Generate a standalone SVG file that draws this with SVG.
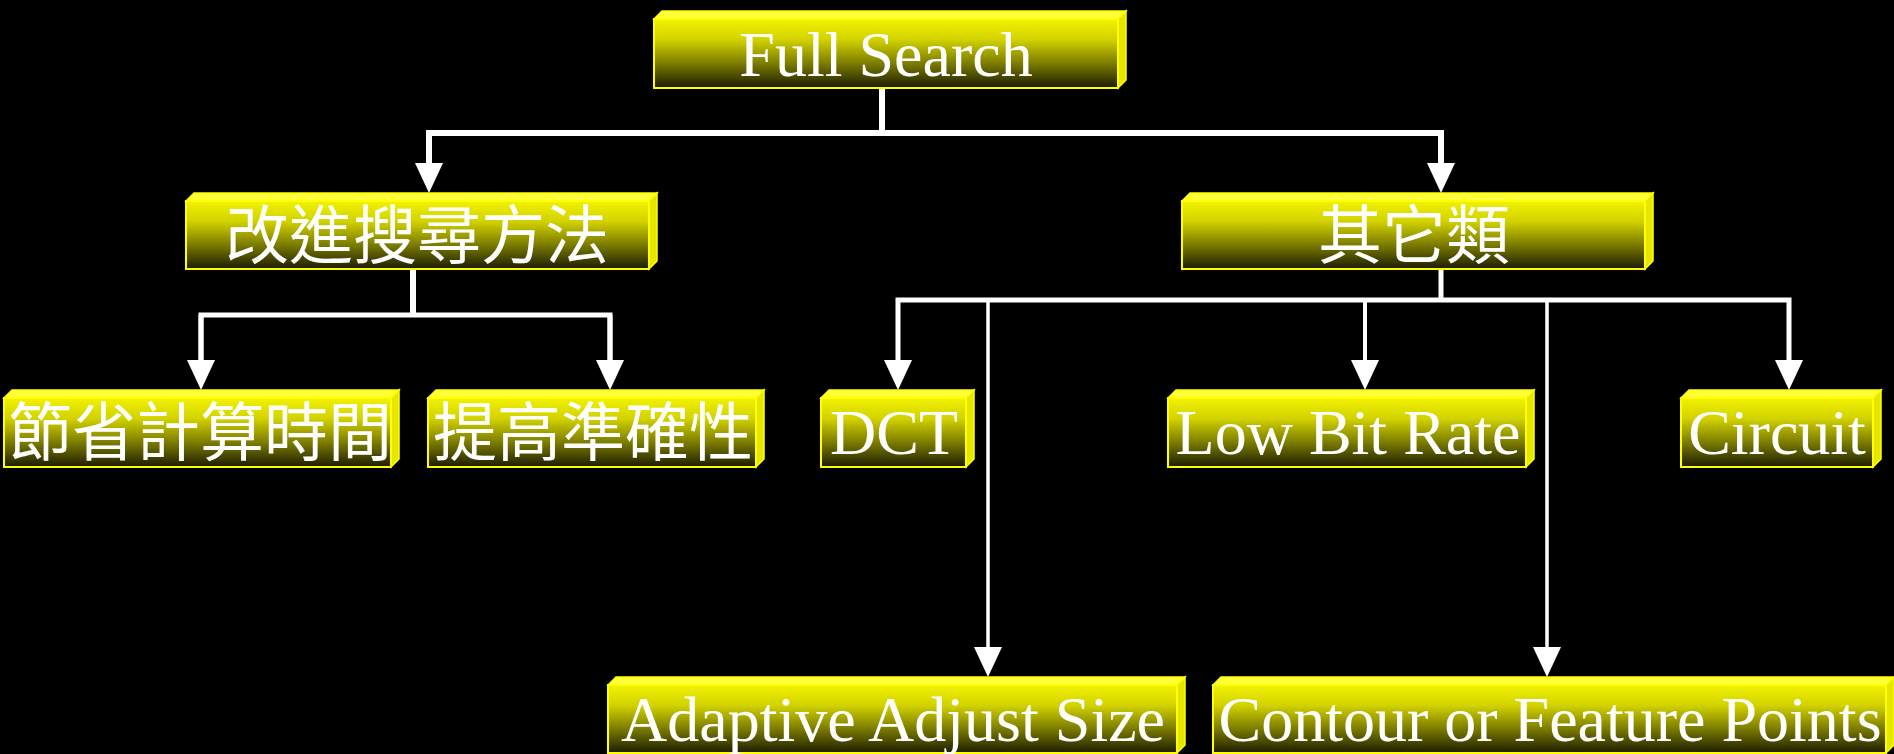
<svg xmlns="http://www.w3.org/2000/svg" width="1894" height="754" viewBox="0 0 1894 754">
<defs>
<linearGradient id="front" x1="0" y1="0" x2="0" y2="1">
<stop offset="0" stop-color="#F2F200"/>
<stop offset="0.3" stop-color="#D2D200"/>
<stop offset="0.65" stop-color="#7A7A00"/>
<stop offset="1" stop-color="#1C1C00"/>
</linearGradient>
<marker id="ah" viewBox="0 0 30 28" refX="5" refY="14" markerWidth="30" markerHeight="28" markerUnits="userSpaceOnUse" orient="auto">
<path d="M0,0 L30,14 L0,28 Z" fill="#FFFFFF"/>
</marker>
<style>
.f{fill:url(#front);stroke:#FFFF00;stroke-width:2}
.t{fill:#FFFF3A;stroke:#FFFF00;stroke-width:1.5}
.s{fill:#E6E600;stroke:#FFFF00;stroke-width:1.5}
.en{font-family:"Liberation Serif","Times New Roman",serif;font-size:64px;fill:#FFFFFF;text-anchor:middle}
.zh{font-family:"Noto Sans CJK TC","Noto Sans CJK SC",sans-serif;font-size:64px;fill:#FFFFFF;text-anchor:middle}
.c{fill:none;stroke:#FFFFFF;stroke-linejoin:miter}
</style>
</defs>
<rect x="0" y="0" width="1894" height="754" fill="#000000"/>

<g id="connectors">
<path class="c" stroke-width="6" d="M882,88 V133"/>
<path class="c" stroke-width="6" d="M429,168 V133 H1441 V168"/>
<path class="c" stroke-width="5" d="M429,133 V168" marker-end="url(#ah)"/>
<path class="c" stroke-width="5" d="M1441,133 V168" marker-end="url(#ah)"/>

<path class="c" stroke-width="6" d="M413,269 V315"/>
<path class="c" stroke-width="5" d="M201,365 V315 H610 V365"/>
<path class="c" stroke-width="5" d="M201,315 V365" marker-end="url(#ah)"/>
<path class="c" stroke-width="5" d="M610,315 V365" marker-end="url(#ah)"/>

<path class="c" stroke-width="5" d="M1441,269 V300"/>
<path class="c" stroke-width="5" d="M898,365 V300 H1789 V365"/>
<path class="c" stroke-width="4" d="M898,300 V365" marker-end="url(#ah)"/>
<path class="c" stroke-width="4" d="M1365,300 V365" marker-end="url(#ah)"/>
<path class="c" stroke-width="4" d="M1789,300 V365" marker-end="url(#ah)"/>
<path class="c" stroke-width="3.5" d="M988,300 V652" marker-end="url(#ah)"/>
<path class="c" stroke-width="3.5" d="M1547,300 V652" marker-end="url(#ah)"/>
</g>

<g id="full-search">
<polygon class="t" points="654,19 662,11 1126,11 1118,19"/>
<polygon class="s" points="1118,19 1126,11 1126,80 1118,88"/>
<rect class="f" x="654" y="19" width="464" height="69"/>
<text class="en" x="886" y="76">Full Search</text>
</g>

<g id="improve-search">
<polygon class="t" points="186,201 194,193 657,193 649,201"/>
<polygon class="s" points="649,201 657,193 657,261 649,269"/>
<rect class="f" x="186" y="201" width="463" height="68"/>
<text class="zh" x="417" y="258">改進搜尋方法</text>
</g>

<g id="others">
<polygon class="t" points="1182,201 1190,193 1653,193 1645,201"/>
<polygon class="s" points="1645,201 1653,193 1653,261 1645,269"/>
<rect class="f" x="1182" y="201" width="463" height="68"/>
<text class="zh" x="1414" y="258">其它類</text>
</g>

<g id="save-time">
<polygon class="t" points="4,398 12,390 399,390 391,398"/>
<polygon class="s" points="391,398 399,390 399,459 391,467"/>
<rect class="f" x="4" y="398" width="387" height="69"/>
<text class="zh" x="200" y="455">節省計算時間</text>
</g>

<g id="improve-accuracy">
<polygon class="t" points="428,398 436,390 764,390 756,398"/>
<polygon class="s" points="756,398 764,390 764,459 756,467"/>
<rect class="f" x="428" y="398" width="328" height="69"/>
<text class="zh" x="593" y="455">提高準確性</text>
</g>

<g id="dct">
<polygon class="t" points="821,398 829,390 974,390 966,398"/>
<polygon class="s" points="966,398 974,390 974,459 966,467"/>
<rect class="f" x="821" y="398" width="145" height="69"/>
<text class="en" x="894" y="454">DCT</text>
</g>

<g id="low-bit-rate">
<polygon class="t" points="1168,398 1176,390 1534,390 1526,398"/>
<polygon class="s" points="1526,398 1534,390 1534,459 1526,467"/>
<rect class="f" x="1168" y="398" width="358" height="69"/>
<text class="en" x="1348" y="454">Low Bit Rate</text>
</g>

<g id="circuit">
<polygon class="t" points="1681,398 1689,390 1881,390 1873,398"/>
<polygon class="s" points="1873,398 1881,390 1881,459 1873,467"/>
<rect class="f" x="1681" y="398" width="192" height="69"/>
<text class="en" x="1777" y="454">Circuit</text>
</g>

<g id="adaptive">
<polygon class="t" points="608,685 616,677 1185,677 1177,685"/>
<polygon class="s" points="1177,685 1185,677 1185,745 1177,753"/>
<rect class="f" x="608" y="685" width="569" height="68"/>
<text class="en" x="893" y="741">Adaptive Adjust Size</text>
</g>

<g id="contour">
<polygon class="t" points="1213,685 1221,677 1894,677 1886,685"/>
<polygon class="s" points="1886,685 1894,677 1894,745 1886,753"/>
<rect class="f" x="1213" y="685" width="673" height="68"/>
<text class="en" x="1550" y="741">Contour or Feature Points</text>
</g>
</svg>
